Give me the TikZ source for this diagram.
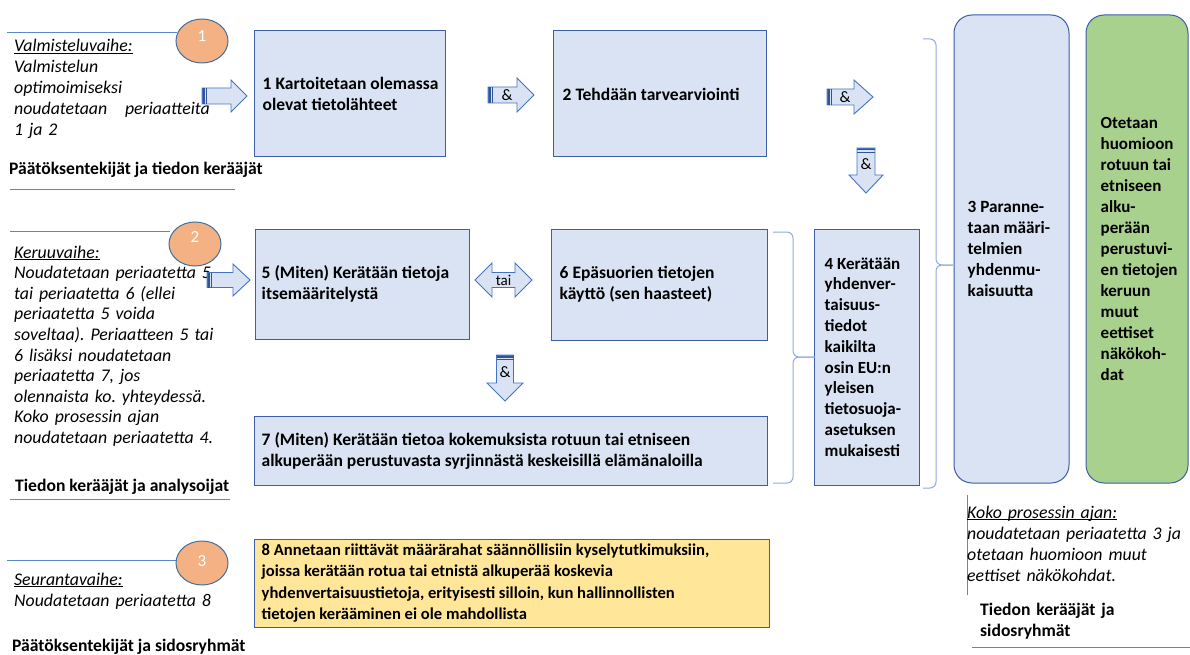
\documentclass[tikz,border=0pt]{standalone}
\usepackage{fontspec}
\setmainfont{Carlito}
\usetikzlibrary{shapes.geometric}
\definecolor{boxfill}{HTML}{DAE3F3}
\definecolor{boxline}{HTML}{3B5EA6}
\definecolor{greenfill}{HTML}{A9D18E}
\definecolor{yellowfill}{HTML}{FFE699}
\definecolor{circfill}{HTML}{F4B183}
\definecolor{circline}{HTML}{41719C}
\definecolor{thinline}{HTML}{5B86C9}
\definecolor{bracecol}{HTML}{8FAADC}
\definecolor{arrline}{HTML}{4472C4}
\definecolor{stripecol}{HTML}{2F5597}
\newcommand\myul[1]{\setbox0\hbox{#1}\rlap{\rule[-2.3pt]{\wd0}{0.9pt}}\box0}
% right arrow: tail x, head start x, tip x, yc, shaft half, head half
\newcommand\myrarrow[6]{%
  \filldraw[arrbody] (#1,#4-#5) -- (#2,#4-#5) -- (#2,#4-#6) -- (#3,#4) -- (#2,#4+#6) -- (#2,#4+#5) -- (#1,#4+#5) -- cycle;
  \fill[stripecol] (#1,#4-#5) rectangle (#1+2.5,#4+#5);
  \fill[stripecol] (#1+3.6,#4-#5) rectangle (#1+5.4,#4+#5);
  \draw[arrline,line width=0.9pt] (#1,#4-#5) -- (#1,#4+#5);}
% down arrow: xc, tail y, head start y, tip y, shaft half, head half
\newcommand\mydarrow[6]{%
  \filldraw[arrbody] (#1-#5,#2) -- (#1-#5,#3) -- (#1-#6,#3) -- (#1,#4) -- (#1+#6,#3) -- (#1+#5,#3) -- (#1+#5,#2) -- cycle;
  \fill[stripecol] (#1-#5,#2) rectangle (#1+#5,#2+2.5);
  \fill[stripecol] (#1-#5,#2+3.6) rectangle (#1+#5,#2+5.4);
  \draw[arrline,line width=0.9pt] (#1-#5,#2) -- (#1+#5,#2);}
\begin{document}
\frenchspacing
\begin{tikzpicture}[x=1pt,y=-1pt,
  box/.style={draw=boxline, line width=1pt, fill=boxfill, rectangle, inner sep=0pt},
  btext/.style={font=\bfseries\fontsize{17.5}{21}\selectfont, align=left, inner sep=0pt, anchor=west},
  ltext/.style={font=\itshape\fontsize{17.8}{21}\selectfont, text width=300pt, align=left, inner sep=0pt, anchor=base west},
  role/.style={font=\bfseries\fontsize{17.6}{21}\selectfont, inner sep=0pt, anchor=base west},
  numc/.style={ellipse, draw=circline, line width=1pt, fill=circfill, minimum width=52pt, minimum height=44pt, inner sep=0pt},
  numt/.style={text=white, font=\fontsize{17}{20}\selectfont, inner sep=0pt},
  sep/.style={draw=thinline, line width=0.8pt},
  brace/.style={draw=bracecol, line width=1pt, rounded corners=6pt},
  arrbody/.style={draw=arrline, line width=0.9pt, fill=boxfill},
  arrt/.style={font=\fontsize{16}{18}\selectfont, inner sep=0pt}]
\useasboundingbox (0,0) rectangle (1190,655);

% ---- separator lines
\coordinate (s1a) at (7,32);   \coordinate (s1b) at (177,32);
\coordinate (s2a) at (10,189); \coordinate (s2b) at (235,189);
\coordinate (s3a) at (10,231); \coordinate (s3b) at (170,231);
\coordinate (s4a) at (10,499); \coordinate (s4b) at (230,499);
\coordinate (s5a) at (7,560);  \coordinate (s5b) at (176,560);
\coordinate (s6a) at (967,495); \coordinate (s6b) at (967,595);
\coordinate (s7a) at (972,647); \coordinate (s7b) at (1190,647);
\draw[sep] (s1a) -- (s1b);
\draw[sep] (s2a) -- (s2b);
\draw[sep] (s3a) -- (s3b);
\draw[sep] (s4a) -- (s4b);
\draw[sep] (s5a) -- (s5b);
\draw[sep] (s6a) -- (s6b);
\draw[sep] (s7a) -- (s7b);

% ---- circles
\node[numc] (c1) at (202,41) {};
\node[numt] (c1t) at (202,36) {1};
\node[numc] (c2) at (195,244) {};
\node[numt] (c2t) at (195,237) {2};
\node[numc] (c3) at (202,563) {};
\node[numt] (c3t) at (202,561) {3};

% ---- left texts
\node[ltext] (l1) at (14,52) {\myul{Valmisteluvaihe:}\\Valmistelun\\optimoimiseksi\\noudatetaan\ \ \ periaatteita\\1 ja 2};
\node[role] (r1) at (9,175) {Päätöksentekijät ja tiedon kerääjät};
\node[ltext, font=\itshape\fontsize{17.8}{20.6}\selectfont] (l2) at (14,258) {\myul{Keruuvaihe:}\\Noudatetaan periaatetta 5\\tai periaatetta 6 (ellei\\periaatetta 5 voida\\soveltaa). Periaatteen 5 tai\\6 lisäksi noudatetaan\\periaatetta 7, jos\\olennaista ko. yhteydessä.\\Koko prosessin ajan\\noudatetaan periaatetta 4.};
\node[role] (r2) at (15,491) {Tiedon kerääjät ja analysoijat};
\node[ltext] (l3) at (14,585) {\myul{Seurantavaihe:}\\Noudatetaan periaatetta 8};
\node[role] (r3) at (12,651) {Päätöksentekijät ja sidosryhmät};
\node[ltext, text width=220pt] (l4) at (967,518) {\myul{Koko prosessin ajan:}\\noudatetaan periaatetta 3 ja\\otetaan huomioon muut\\eettiset näkökohdat.};
\node[ltext, text width=200pt, font=\bfseries\fontsize{17.6}{21}\selectfont] (r4) at (980,615) {Tiedon kerääjät ja\\sidosryhmät};

% ---- boxes
\node[box, minimum width=191pt, minimum height=126pt] (b1) at (349.5,94) {};
\node[btext] (t1) at ([xshift=9pt]b1.west) {1 Kartoitetaan olemassa\\olevat tietolähteet};
\node[box, minimum width=213pt, minimum height=126pt] (b2) at (659.5,94) {};
\node[btext] (t2) at ([xshift=10pt]b2.west) {2 Tehdään tarvearviointi};
\node[box, minimum width=214pt, minimum height=110pt] (b5) at (362,284) {};
\node[btext] (t5) at ([xshift=7pt]b5.west) {5 (Miten) Kerätään tietoja\\itsemääritelystä};
\node[box, minimum width=216pt, minimum height=111pt] (b6) at (659,284.5) {};
\node[btext] (t6) at ([xshift=9pt]b6.west) {6 Epäsuorien tietojen\\käyttö (sen haasteet)};
\node[box, minimum width=513pt, minimum height=69pt] (b7) at (510.5,450.5) {};
\node[btext] (t7) at ([xshift=8pt]b7.west) {7 (Miten) Kerätään tietoa kokemuksista rotuun tai etniseen\\alkuperään perustuvasta syrjinnästä keskeisillä elämänaloilla};
\node[box, fill=yellowfill, minimum width=515pt, minimum height=88pt] (b8) at (511.5,583) {};
\node[btext, font=\bfseries\fontsize{16.6}{21.3}\selectfont] (t8) at ([xshift=8pt]b8.west) {8 Annetaan riittävät määrärahat säännöllisiin kyselytutkimuksiin,\\joissa kerätään rotua tai etnistä alkuperää koskevia\\yhdenvertaisuustietoja, erityisesti silloin, kun hallinnollisten\\tietojen kerääminen ei ole mahdollista};
\node[box, minimum width=105pt, minimum height=256pt] (b4) at (866.5,357) {};
\node[btext, font=\bfseries\fontsize{17}{20.8}\selectfont] (t4) at ([xshift=11pt]b4.west) {4 Kerätään\\yhdenver-\\taisuus-\\tiedot\\kaikilta\\osin EU:n\\yleisen\\tietosuoja-\\asetuksen\\mukaisesti};
\node[box, rounded corners=18pt, minimum width=115pt, minimum height=468pt] (b3) at (1011.5,249) {};
\node[btext, font=\bfseries\fontsize{17.2}{21}\selectfont] (t3) at ([xshift=14pt]b3.west) {3 Paranne-\\taan määri-\\telmien\\yhdenmu-\\kaisuutta};
\node[box, fill=greenfill, rounded corners=18pt, minimum width=102pt, minimum height=468pt] (bg) at (1137,249) {};
\node[btext, font=\bfseries\fontsize{17}{21}\selectfont] (tg) at ([xshift=15pt]bg.west) {Otetaan\\huomioon\\rotuun tai\\etniseen\\alku-\\perään\\perustuvi-\\en tietojen\\keruun\\muut\\eettiset\\näkökoh-\\dat};

% ---- braces
\coordinate (bra1) at (923,39);  \coordinate (bra2) at (923,488); \coordinate (brat) at (936,265); \coordinate (brap) at (953,265);
\draw[brace] (bra1) -| (brat) -- (brap);
\draw[brace] (bra2) -| (brat) -- (brap);
\coordinate (brb1) at (773,232); \coordinate (brb2) at (773,483); \coordinate (brbt) at (793,357); \coordinate (brbp) at (815,357);
\draw[brace] (brb1) -| (brbt) -- (brbp);
\draw[brace] (brb2) -| (brbt) -- (brbp);

% ---- block arrows
\myrarrow{202}{231}{247}{96}{8}{16}
\myrarrow{488}{517}{534}{95}{8}{17}
\node[arrt] (amp1) at (507,95) {\&};
\myrarrow{827}{854}{873}{97}{8}{17}
\node[arrt] (amp2) at (845,97) {\&};
\mydarrow{866}{148}{175}{193}{9}{17}
\node[arrt] (amp3) at (866,164) {\&};
\myrarrow{207}{233}{250}{280}{7.5}{16}
\mydarrow{505}{355}{383}{401}{8.5}{18}
\node[arrt] (amp4) at (505,372) {\&};
\filldraw[arrbody] (475,280) -- (492,263) -- (492,272.5) -- (515,272.5) -- (515,263) -- (532,280) -- (515,297) -- (515,287.5) -- (492,287.5) -- (492,297) -- cycle;
\node[arrt, font=\fontsize{15}{17}\selectfont] (tai) at (503.5,280) {tai};
\end{tikzpicture}
\end{document}
